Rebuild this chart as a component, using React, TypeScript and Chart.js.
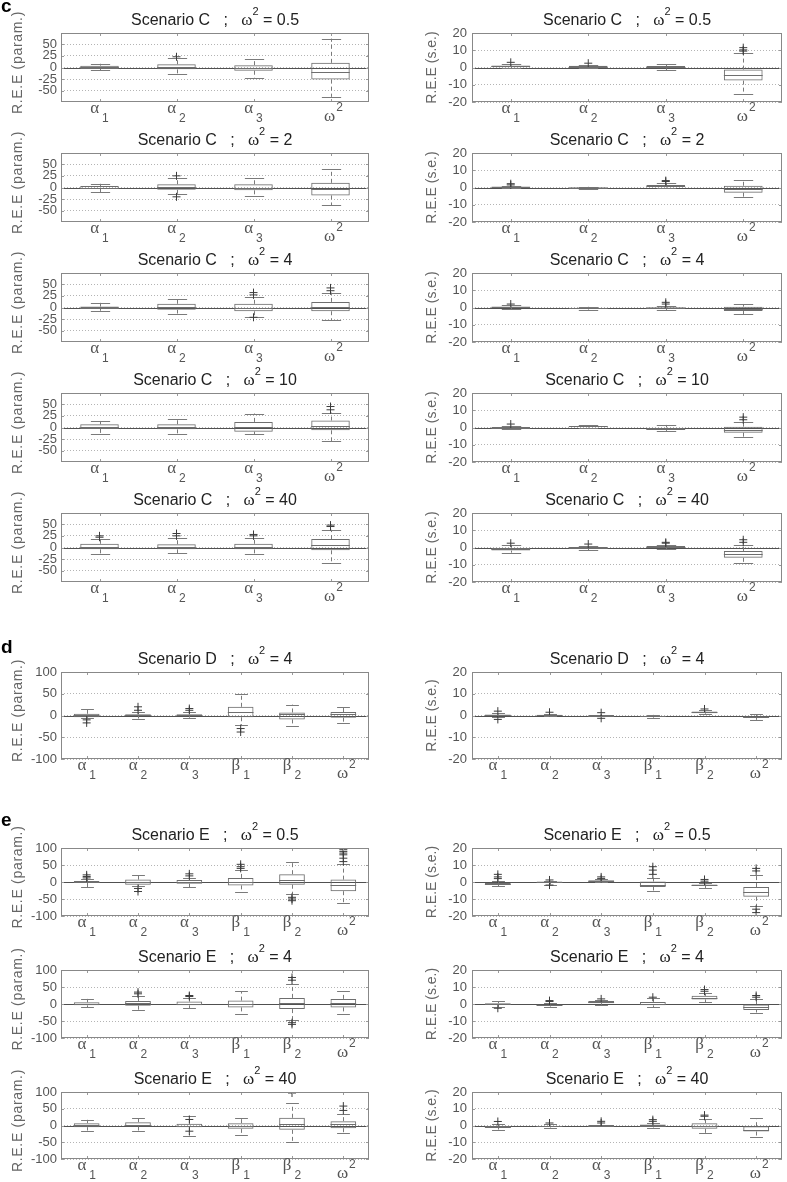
import React, { useEffect, useRef } from "react";
import { Chart, registerables } from "chart.js";
Chart.register(...registerables);

// ---------- categories & ticks ----------
const CATS_C = ["α_1", "α_2", "α_3", "ω^2"];
const CATS_DE = ["α_1", "α_2", "α_3", "β_1", "β_2", "ω^2"];
const TICKS_C_PARAM = [-50, -25, 0, 25, 50];
const TICKS_DE_PARAM = [-100, -50, 0, 50, 100];
const TICKS_SE = [-20, -10, 0, 10, 20];

// ---------- data: per category [lower whisker, q1, median, q3, upper whisker] ----------
// Scenario C, omega^2 = 0.5
const C05_P = [[-6, -3, 1, 4, 8], [-14, -4, 2, 7, 20], [-23, -7, 0, 5, 18], [-63, -26, -10, 10, 62]];
const C05_P_OUT = [[], [23], [], []];
const C05_S = [[-0.5, 0.2, 0.7, 1.2, 2], [-0.5, 0, 0.5, 1, 1.5], [-1.5, -0.5, 0.3, 0.8, 1.8], [-15.3, -7.6, -4.3, -1.2, 8.6]];
const C05_S_OUT = [[3], [2.5], [], [9.5, 10.2, 11.5]];
// Scenario C, omega^2 = 2
const C2_P = [[-10, -3, 0, 3, 8], [-15, -5, 1.5, 7, 20], [-19, -6, 0, 7, 21], [-38, -17, -3, 10, 40]];
const C2_P_OUT = [[], [25, -20], [], []];
const C2_S = [[-0.3, 0, 0.3, 0.6, 1], [-0.6, -0.3, 0, 0.2, 0.4], [0, 0.5, 1, 1.5, 2.5], [-5.5, -3, -1, 1, 4.5]];
const C2_S_OUT = [[1.5, 2.2], [], [3.5, 4], []];
// Scenario C, omega^2 = 4
const C4_P = [[-7, -2, 0, 2, 10], [-13, -5, 2, 8, 18], [-20, -8, 0, 8, 22], [-27, -8, 2, 12, 32]];
const C4_P_OUT = [[], [], [27, 32, -21], [36, 42]];
const C4_S = [[-1, 0, 0.3, 0.6, 1.2], [-1.2, -0.8, -0.4, 0, 0.4], [-1.5, -0.8, -0.3, 0.2, 1], [-4, -2, -0.8, 0.5, 2]];
const C4_S_OUT = [[2], [], [2, 3], []];
// Scenario C, omega^2 = 10
const C10_P = [[-13, -3, 2, 7, 14], [-13, -4, 1, 7, 18], [-15, -9, 1, 12, 30], [-30, -6, 3, 15, 32]];
const C10_P_OUT = [[], [], [], [38, 45]];
const C10_S = [[-1, -0.3, 0, 0.3, 1], [0, 0.3, 0.6, 0.9, 1.2], [-2, -1.3, -0.7, 0, 1.5], [-5.5, -3, -1.5, 0.5, 3]];
const C10_S_OUT = [[2], [], [], [4.5, 6]];
// Scenario C, omega^2 = 40
const C40_P = [[-15, -4, 2, 8, 18], [-12, -4, 2, 7, 20], [-14, -4, 1, 8, 20], [-33, -6, 5, 18, 38]];
const C40_P_OUT = [[22, 25], [25, 30], [25, 28], [45, 48]];
const C40_S = [[-3, -1.8, -1, 0, 1.5], [-1.5, -0.7, -0.2, 0.3, 1], [-1, -0.2, 0.3, 0.8, 1.5], [-9, -6, -4, -2, 1.5]];
const C40_S_OUT = [[2.5], [2], [2.5, 3], [3, 4.5]];
// Scenario D, omega^2 = 4
const D4_P = [[-6, -4, 1, 4, 14], [-7, -1, 1, 3, 9], [-5, -1, 1, 3, 8], [-22, -4, 8, 20, 50], [-24, -9, 3, 7, 25], [-18, -5, 3, 8, 20]];
const D4_P_OUT = [[-10, -17], [12, 20], [12, 16], [-30, -38], [], []];
const D4_S = [[-0.5, -0.2, 0.2, 0.5, 1], [-0.3, 0, 0.2, 0.4, 0.7], [-0.4, -0.2, 0, 0.2, 0.4], [-1, -0.6, -0.3, 0, 0.3], [0.5, 1, 1.4, 1.8, 2.3], [-2, -1.1, -0.7, -0.3, 0.5]];
const D4_S_OUT = [[2, -1.8], [1.5], [1.3, -1.3], [], [3], []];
// Scenario E, omega^2 = 0.5
const E05_P = [[-15, -3, 0, 3, 10], [-13, -8, 0, 7, 21], [-15, -5, 1, 6, 12], [-29, -10, 0, 12, 35], [-35, -8, 6, 23, 60], [-63, -27, -10, 7, 52]];
const E05_P_OUT = [[12, 16, 21], [-19, -28], [18, 24], [40, 45, 52], [-45, -50, -55], [60, 70, 80, 85, 90, 95]];
const E05_S = [[-2.5, -1.6, -1.2, -0.6, 0.5], [-1.5, -0.3, 0, 0.3, 0.8], [0, 0.3, 0.6, 1, 1.5], [-5, -2.9, -1.5, 0.3, 2.5], [-3.5, -2.3, -2, -1.5, -0.5], [-14, -8.7, -5.8, -3, 4]];
const E05_S_OUT = [[2, 3, 4.5], [-1.8, 1.2], [2, 3], [4.5, 7, 9], [0.5, 1.5], [6.5, 8, -16, -18]];
// Scenario E, omega^2 = 4
const E4_P = [[-10, -4, 1, 5, 15], [-18, -5, 2, 9, 25], [-12, -4, 1, 7, 17], [-30, -10, 0, 10, 38], [-48, -15, 3, 18, 60], [-28, -10, 2, 15, 38]];
const E4_P_OUT = [[], [30, 35], [22, 25], [], [70, 78, -55, -60], []];
const E4_S = [[-2, -0.5, 0, 0.5, 1.5], [-1.5, -1, -0.7, -0.3, 0.5], [-0.5, 0.5, 1, 1.8, 2.5], [-2, -0.8, 0.2, 1.2, 3.5], [1, 2.7, 3.5, 4.8, 6.5], [-5, -3.5, -1.5, 0, 3]];
const E4_S_OUT = [[-2.5], [1.5, 2], [3], [4], [7.5, 8.5], [4, 5]];
// Scenario E, omega^2 = 40
const E40_P = [[-15, -5, 1, 7, 17], [-17, -3, 2, 10, 23], [-30, -5, 0, 5, 28], [-27, -10, -1, 7, 23], [-50, -13, 5, 23, 67], [-23, -8, 3, 13, 35]];
const E40_P_OUT = [[], [], [18, -17], [], [97], [45, 58]];
const E40_S = [[-2.4, -1.5, -1, -0.3, 1], [-1.2, -0.8, -0.4, 0, 0.8], [-0.5, -0.3, 0, 0.3, 0.5], [-1.2, -0.5, 0, 0.6, 1.5], [-4.4, -2, -0.5, 1.4, 4], [-6.6, -3.6, -2.5, -0.4, 4.4]];
const E40_S_OUT = [[2.4], [1.5], [1.5, 2.5], [2.5, 3.5], [5.5, 6.2], []];

// ---------- styles ----------
const SANS = '"Liberation Sans", Arial, sans-serif';
const SERIF = '"Liberation Serif", "DejaVu Serif", serif';
const BOX = "#6e6e6e";
const WHISK = "#7a7a7a";
const OUTC = "#3c3c3c";
const ZERO = "#505050";
const FRAME = "#888888";
const GRID = "#b4b4b4";
const TXT = "#555555";
const TITLE = "#222222";

const TITLE_H = 34;
const XAXIS_H = 30;
const YAXIS_W = 61;

type Side = "L" | "R";
interface Panel {
  scen: string; w2: string; cats: string[]; stats: number[][]; out: number[][];
  ticks: number[]; min: number; max: number; side: Side; top: number; bottom: number;
}

const C_TOPS = [33, 153, 273, 393, 513];
const mk = (scen: string, w2: string, cats: string[], stats: number[][], out: number[][], side: Side, top: number, bottom: number): Panel => {
  const param = side === "L";
  const isC = cats.length === 4;
  const ticks = param ? (isC ? TICKS_C_PARAM : TICKS_DE_PARAM) : TICKS_SE;
  const lim = param ? (isC ? 74 : 100) : 20;
  return { scen, w2, cats, stats, out, ticks, min: -lim, max: lim, side, top, bottom };
};

const PANELS: Panel[] = [
  mk("C", "0.5", CATS_C, C05_P, C05_P_OUT, "L", C_TOPS[0], C_TOPS[0] + 69),
  mk("C", "0.5", CATS_C, C05_S, C05_S_OUT, "R", C_TOPS[0], C_TOPS[0] + 69),
  mk("C", "2", CATS_C, C2_P, C2_P_OUT, "L", C_TOPS[1], C_TOPS[1] + 69),
  mk("C", "2", CATS_C, C2_S, C2_S_OUT, "R", C_TOPS[1], C_TOPS[1] + 69),
  mk("C", "4", CATS_C, C4_P, C4_P_OUT, "L", C_TOPS[2], C_TOPS[2] + 69),
  mk("C", "4", CATS_C, C4_S, C4_S_OUT, "R", C_TOPS[2], C_TOPS[2] + 69),
  mk("C", "10", CATS_C, C10_P, C10_P_OUT, "L", C_TOPS[3], C_TOPS[3] + 69),
  mk("C", "10", CATS_C, C10_S, C10_S_OUT, "R", C_TOPS[3], C_TOPS[3] + 69),
  mk("C", "40", CATS_C, C40_P, C40_P_OUT, "L", C_TOPS[4], C_TOPS[4] + 69),
  mk("C", "40", CATS_C, C40_S, C40_S_OUT, "R", C_TOPS[4], C_TOPS[4] + 69),
  mk("D", "4", CATS_DE, D4_P, D4_P_OUT, "L", 672, 759),
  mk("D", "4", CATS_DE, D4_S, D4_S_OUT, "R", 672, 759),
  mk("E", "0.5", CATS_DE, E05_P, E05_P_OUT, "L", 848, 916),
  mk("E", "0.5", CATS_DE, E05_S, E05_S_OUT, "R", 848, 916),
  mk("E", "4", CATS_DE, E4_P, E4_P_OUT, "L", 970, 1038),
  mk("E", "4", CATS_DE, E4_S, E4_S_OUT, "R", 970, 1038),
  mk("E", "40", CATS_DE, E40_P, E40_P_OUT, "L", 1092, 1159),
  mk("E", "40", CATS_DE, E40_S, E40_S_OUT, "R", 1092, 1159),
];

function geometry(p: Panel) {
  const plotL = p.side === "L" ? 61 : 472;
  const plotR = p.side === "L" ? 373 : 786;
  const x = plotL - YAXIS_W;
  const w = plotR - x + 1;
  const y = p.top - TITLE_H;
  const h = TITLE_H + (p.bottom - p.top) + XAXIS_H;
  return { x, y, w, h };
}

const snap = (v: number) => Math.round(v) + 0.5;

function makePlugin(p: Panel) {
  return {
    id: "boxDecor",
    beforeDatasetsDraw(chart: any) {
      const { ctx, chartArea: a, scales } = chart;
      const xs = scales.x, ys = scales.y;
      const n = p.cats.length;
      const cw = a.width / n;
      const capW = cw * 0.25;
      ctx.save();
      // zero line
      const y0 = snap(ys.getPixelForValue(0));
      ctx.strokeStyle = ZERO; ctx.lineWidth = 1;
      ctx.beginPath(); ctx.moveTo(a.left, y0); ctx.lineTo(a.right, y0); ctx.stroke();
      // whiskers
      p.stats.forEach((s, i) => {
        const cx = snap(xs.getPixelForValue(i));
        const [lo, q1, , q3, hi] = s;
        ctx.strokeStyle = WHISK;
        ctx.setLineDash([4, 3]);
        ctx.beginPath();
        ctx.moveTo(cx, ys.getPixelForValue(q3)); ctx.lineTo(cx, ys.getPixelForValue(hi));
        ctx.moveTo(cx, ys.getPixelForValue(q1)); ctx.lineTo(cx, ys.getPixelForValue(lo));
        ctx.stroke();
        ctx.setLineDash([]);
        ctx.beginPath();
        const yh = snap(ys.getPixelForValue(hi)), yl = snap(ys.getPixelForValue(lo));
        ctx.moveTo(cx - capW / 2, yh); ctx.lineTo(cx + capW / 2, yh);
        ctx.moveTo(cx - capW / 2, yl); ctx.lineTo(cx + capW / 2, yl);
        ctx.stroke();
      });
      ctx.restore();
    },
    afterDatasetsDraw(chart: any) {
      const { ctx, chartArea: a, scales } = chart;
      const xs = scales.x, ys = scales.y;
      const n = p.cats.length;
      const cw = a.width / n;
      const bw = cw * 0.5;
      ctx.save();
      // medians
      ctx.strokeStyle = BOX; ctx.lineWidth = 1;
      ctx.beginPath();
      p.stats.forEach((s, i) => {
        const cx = xs.getPixelForValue(i);
        const ym = snap(ys.getPixelForValue(s[2]));
        ctx.moveTo(cx - bw / 2, ym); ctx.lineTo(cx + bw / 2, ym);
      });
      ctx.stroke();
      // inward tick marks
      ctx.strokeStyle = "#9a9a9a";
      ctx.beginPath();
      for (let i = 0; i < n; i++) {
        const cx = snap(xs.getPixelForValue(i));
        ctx.moveTo(cx, a.top); ctx.lineTo(cx, a.top + 3);
        ctx.moveTo(cx, a.bottom); ctx.lineTo(cx, a.bottom - 3);
      }
      p.ticks.forEach((t) => {
        const yy = snap(ys.getPixelForValue(t));
        ctx.moveTo(a.left, yy); ctx.lineTo(a.left + 3, yy);
        ctx.moveTo(a.right, yy); ctx.lineTo(a.right - 3, yy);
      });
      ctx.stroke();
      // frame
      ctx.strokeStyle = FRAME;
      ctx.strokeRect(a.left + 0.5, a.top + 0.5, a.width - 1, a.height - 1);
      ctx.restore();
    },
    afterDraw(chart: any) {
      const { ctx, chartArea: a, scales } = chart;
      const xs = scales.x;
      ctx.save();
      // x category labels with sub/superscripts
      ctx.fillStyle = TXT;
      ctx.textBaseline = "alphabetic";
      ctx.textAlign = "left";
      p.cats.forEach((lab, i) => {
        const base = lab[0], kind = lab[1], scr = lab.slice(2);
        const cx = xs.getPixelForValue(i);
        ctx.font = `17px ${SERIF}`;
        const bwid = ctx.measureText(base).width;
        ctx.font = `12px ${SANS}`;
        const swid = ctx.measureText(scr).width;
        const gap = kind === "_" ? 3 : 1;
        const total = bwid + gap + swid;
        const x0 = cx - total / 2 + (kind === "^" ? 3 : 0);
        const baseY = a.bottom + (kind === "_" ? 11 : 19);
        const scrY = a.bottom + (kind === "_" ? 20 : 9);
        ctx.font = `17px ${SERIF}`;
        ctx.fillText(base, x0, baseY);
        ctx.font = `12px ${SANS}`;
        ctx.fillText(scr, x0 + bwid + gap, scrY);
      });
      // title
      const parts = [
        { t: `Scenario ${p.scen}   ;   `, f: `16px ${SANS}`, dy: 0 },
        { t: "ω", f: `17px ${SERIF}`, dy: 0 },
        { t: "2", f: `11px ${SANS}`, dy: -10 },
        { t: ` = ${p.w2}`, f: `16px ${SANS}`, dy: 0 },
      ];
      let tw = 0;
      const widths = parts.map((pt) => { ctx.font = pt.f; const w = ctx.measureText(pt.t).width; tw += w; return w; });
      let tx = (a.left + a.right) / 2 - tw / 2;
      const ty = a.top - 8;
      ctx.fillStyle = TITLE;
      parts.forEach((pt, k) => { ctx.font = pt.f; ctx.fillText(pt.t, tx, ty + pt.dy); tx += widths[k]; });
      // y axis title
      const yl = p.side === "L" ? "R.E.E (param.)" : "R.E.E (s.e.)";
      ctx.translate(a.left - (p.side === "L" ? 43 : 40), (a.top + a.bottom) / 2 - (p.side === "L" ? 5 : 0));
      ctx.rotate(-Math.PI / 2);
      ctx.font = `14px ${SANS}`;
      (ctx as any).letterSpacing = p.side === "L" ? "0.7px" : "0px";
      ctx.fillStyle = "#666666";
      ctx.textAlign = "center";
      ctx.textBaseline = "middle";
      ctx.fillText(yl, 0, 0);
      ctx.restore();
    },
  };
}

function BoxPanel({ p }: { p: Panel }) {
  const ref = useRef<HTMLCanvasElement>(null);
  const g = geometry(p);
  useEffect(() => {
    const outPts: { x: string; y: number }[] = [];
    p.out.forEach((arr, i) => arr.forEach((v) => outPts.push({ x: p.cats[i], y: v })));
    const chart = new Chart(ref.current as HTMLCanvasElement, {
      type: "bar",
      data: {
        labels: p.cats,
        datasets: [
          {
            type: "bar",
            data: p.stats.map((s) => [s[1], s[3]]) as any,
            backgroundColor: "rgba(0,0,0,0)",
            borderColor: BOX,
            borderWidth: 1,
            borderSkipped: false,
            barPercentage: 0.5,
            categoryPercentage: 1,
            order: 2,
          } as any,
          {
            type: "line",
            data: outPts as any,
            showLine: false,
            pointStyle: "cross",
            pointRadius: 4,
            pointBorderWidth: 1,
            borderColor: OUTC,
            backgroundColor: OUTC,
            order: 1,
          } as any,
        ],
      },
      options: {
        responsive: false,
        animation: false,
        devicePixelRatio: 1,
        events: [],
        layout: { padding: { top: TITLE_H, left: 0, right: 1, bottom: 0 } },
        plugins: { legend: { display: false }, tooltip: { enabled: false }, title: { display: false } },
        scales: {
          x: {
            type: "category",
            offset: true,
            grid: { display: false },
            border: { display: false },
            ticks: { display: false },
            afterFit: (s: any) => { s.height = XAXIS_H; s.paddingLeft = 0; s.paddingRight = 0; },
          },
          y: {
            type: "linear",
            min: p.min,
            max: p.max,
            grid: { color: GRID, drawTicks: false, lineWidth: 1 },
            border: { display: false, dash: [1, 2] },
            ticks: { color: TXT, font: { family: SANS, size: 13 }, padding: p.side === "L" ? 4 : 5, autoSkip: false },
            afterBuildTicks: (s: any) => { s.ticks = p.ticks.map((v) => ({ value: v })); },
            afterFit: (s: any) => { s.width = YAXIS_W; s.paddingTop = 0; s.paddingBottom = 0; },
          },
        },
      } as any,
      plugins: [makePlugin(p) as any],
    });
    return () => chart.destroy();
  }, []);
  return (
    <canvas
      ref={ref}
      width={g.w}
      height={g.h}
      style={{ position: "absolute", left: g.x, top: g.y, width: g.w, height: g.h }}
    />
  );
}

const SECTION_LABELS = [
  { t: "c", top: -4 },
  { t: "d", top: 637 },
  { t: "e", top: 810 },
];

export default function App() {
  return (
    <div style={{ position: "absolute", left: 0, top: 0, width: 787, height: 1182, background: "#fff", overflow: "hidden" }}>
      {PANELS.map((p, i) => (
        <BoxPanel key={i} p={p} />
      ))}
      {SECTION_LABELS.map((s) => (
        <div
          key={s.t}
          style={{ position: "absolute", left: 1, top: s.top, font: `bold 19px ${SANS}`, lineHeight: "19px", color: "#000" }}
        >
          {s.t}
        </div>
      ))}
    </div>
  );
}
